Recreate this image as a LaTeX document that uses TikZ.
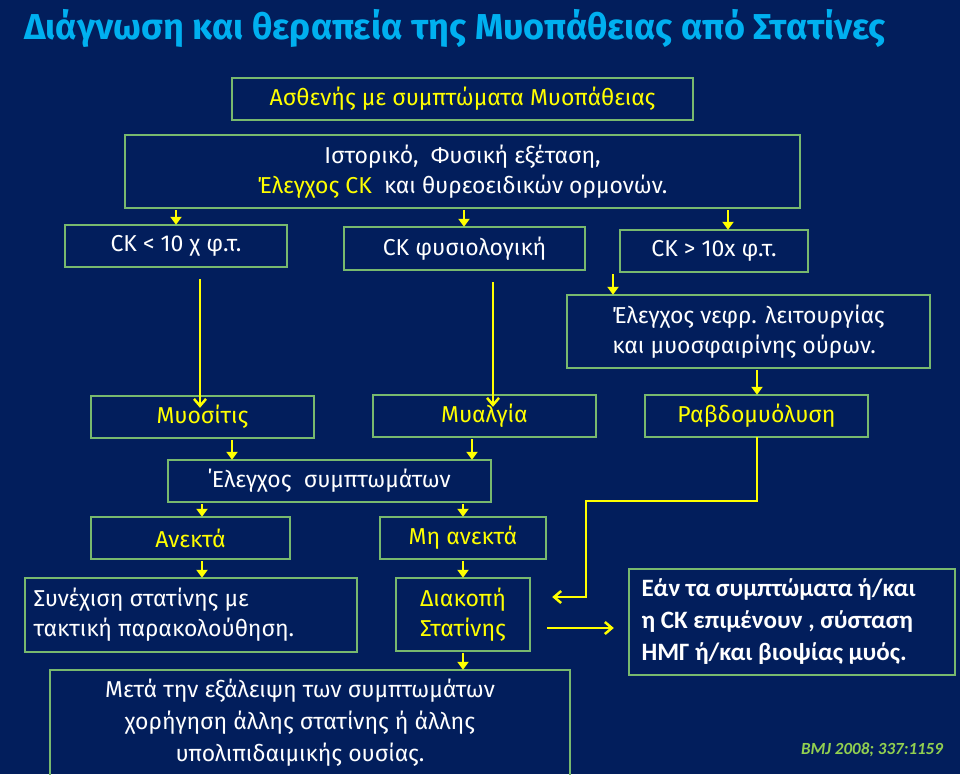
\documentclass[tikz,border=0pt]{standalone}
\usepackage{fontspec}
\setmainfont{Fira Sans}
\newfontfamily\carlitofont{Carlito}
\usetikzlibrary{arrows.meta,calc}
\definecolor{bg}{RGB}{2,30,92}
\definecolor{bd}{RGB}{120,185,110}
\definecolor{yl}{RGB}{255,255,0}
\definecolor{ttl}{RGB}{0,176,240}
\definecolor{bmj}{RGB}{146,208,80}
\tikzset{
 bx/.style={draw=bd,line width=1.3pt,fill=none},
 yt/.style={text=yl,font=\fontsize{23}{30}\selectfont},
 wt/.style={text=white,font=\fontsize{23}{30}\selectfont},
 arr/.style={draw=yl,line width=2.5pt,-{Straight Barb[length=7pt,width=12pt]}},
 sarr/.style={draw=yl,line width=2.5pt,-{Triangle[length=8pt,width=11pt]}},
}
\begin{document}
\begin{tikzpicture}[x=1pt,y=-1pt]
\fill[bg] (0,0) rectangle (960,774);
\useasboundingbox (0,0) rectangle (960,774);
\node[text=ttl,font=\bfseries\fontsize{36}{40}\selectfont] (title) at (455,28) {Διάγνωση και θεραπεία της Μυοπάθειας από Στατίνες};
\def\B#1#2#3#4#5{\draw[bx] (#2,#3) rectangle (#4,#5); \node[inner sep=0,minimum width=#4pt-#2pt,minimum height=#5pt-#3pt] (#1) at ({(#2+#4)/2},{(#3+#5)/2}) {};}
\B{b1}{232}{78}{693}{120}
\node[yt] at (b1) {Ασθενής με συμπτώματα Μυοπάθειας};
\B{b2}{125}{135}{800}{208}
\node[wt,align=center] at (b2) {Ιστορικό, \ Φυσική εξέταση,\\ \textcolor{yl}{Έλεγχος CK} \ και θυρεοειδικών ορμονών.};
\B{c1}{65}{225}{287}{267}
\node[wt] at (c1) {CK < 10 χ φ.τ.};
\B{c2}{344}{227}{585}{270}
\node[wt] at (c2) {CK φυσιολογική};
\B{c3}{620}{230}{808}{272}
\node[wt] at (c3) {CK > 10x φ.τ.};
\B{ne}{567}{295}{930}{368}
\node[wt,align=left] at (ne) {Έλεγχος νεφρ. λειτουργίας\\ και μυοσφαιρίνης ούρων.};
\B{my}{91}{396}{314}{438}
\node[yt] at (my) {Μυοσίτις};
\B{ma}{373}{395}{596}{437}
\node[yt] at (ma) {Μυαλγία};
\B{ra}{645}{395}{868}{437}
\node[yt] at (ra) {Ραβδομυόλυση};
\B{es}{168}{460}{491}{502}
\node[wt] at (es) {΄Ελεγχος \ συμπτωμάτων};
\B{an}{91}{517}{290}{559}
\node[yt] at (an) {Ανεκτά};
\B{mh}{380}{517}{546}{559}
\node[yt] at (mh) {Μη ανεκτά};
\B{sy}{25}{578}{357}{652}
\node[wt,align=left,anchor=west] at (30,615) {Συνέχιση στατίνης με\\ τακτική παρακολούθηση.};
\B{di}{396}{578}{530}{651}
\node[yt,align=center] at (di) {Διακοπή\\ Στατίνης};
\B{me}{50}{670}{570}{790}
\node[wt,align=center,font=\fontsize{23}{32}\selectfont] at (300,723) {Μετά την εξάλειψη των συμπτωμάτων\\ χορήγηση άλλης στατίνης ή άλλης\\ υπολιπιδαιμικής ουσίας.};
\B{rb}{629}{569}{955}{675}
\node[text=white,font=\carlitofont\bfseries\fontsize{25}{32}\selectfont,align=left,anchor=west] at (638,622) {Εάν τα συμπτώματα ή/και\\ η CK επιμένουν , σύσταση\\ ΗΜΓ ή/και βιοψίας μυός.};
\node[text=bmj,font=\carlitofont\bfseries\itshape\fontsize{17}{20}\selectfont] (ref) at (872,750) {BMJ 2008; 337:1159};
% small arrows
\foreach \s/\t/\x in {b2/c1/176,b2/c2/464,b2/c3/728,c3/ne/613,ne/ra/757,my/es/232,ma/es/472,es/an/202,es/mh/463,an/sy/202,mh/di/463,di/me/463}
 \draw[sarr] (\s.south -| \x,0) ++(0,2) -- (\t.north -| \x,0);
% long arrows
\draw[arr] (c1.south -| 200,0) ++(0,12) -- ([yshift=-12pt]my.north -| 200,0);
\draw[arr] (c2.south -| 493,0) ++(0,12) -- ([yshift=-12pt]ma.north -| 493,0);
\draw[arr] (ra.south -| 757,0) -- (757,501) -- (586,501) -- (586,597) -- ([xshift=22pt]di.east |- 0,597);
\draw[arr] ([xshift=17pt]di.east |- 0,628) -- ([xshift=-15pt]rb.west |- 0,628);
\end{tikzpicture}
\end{document}
